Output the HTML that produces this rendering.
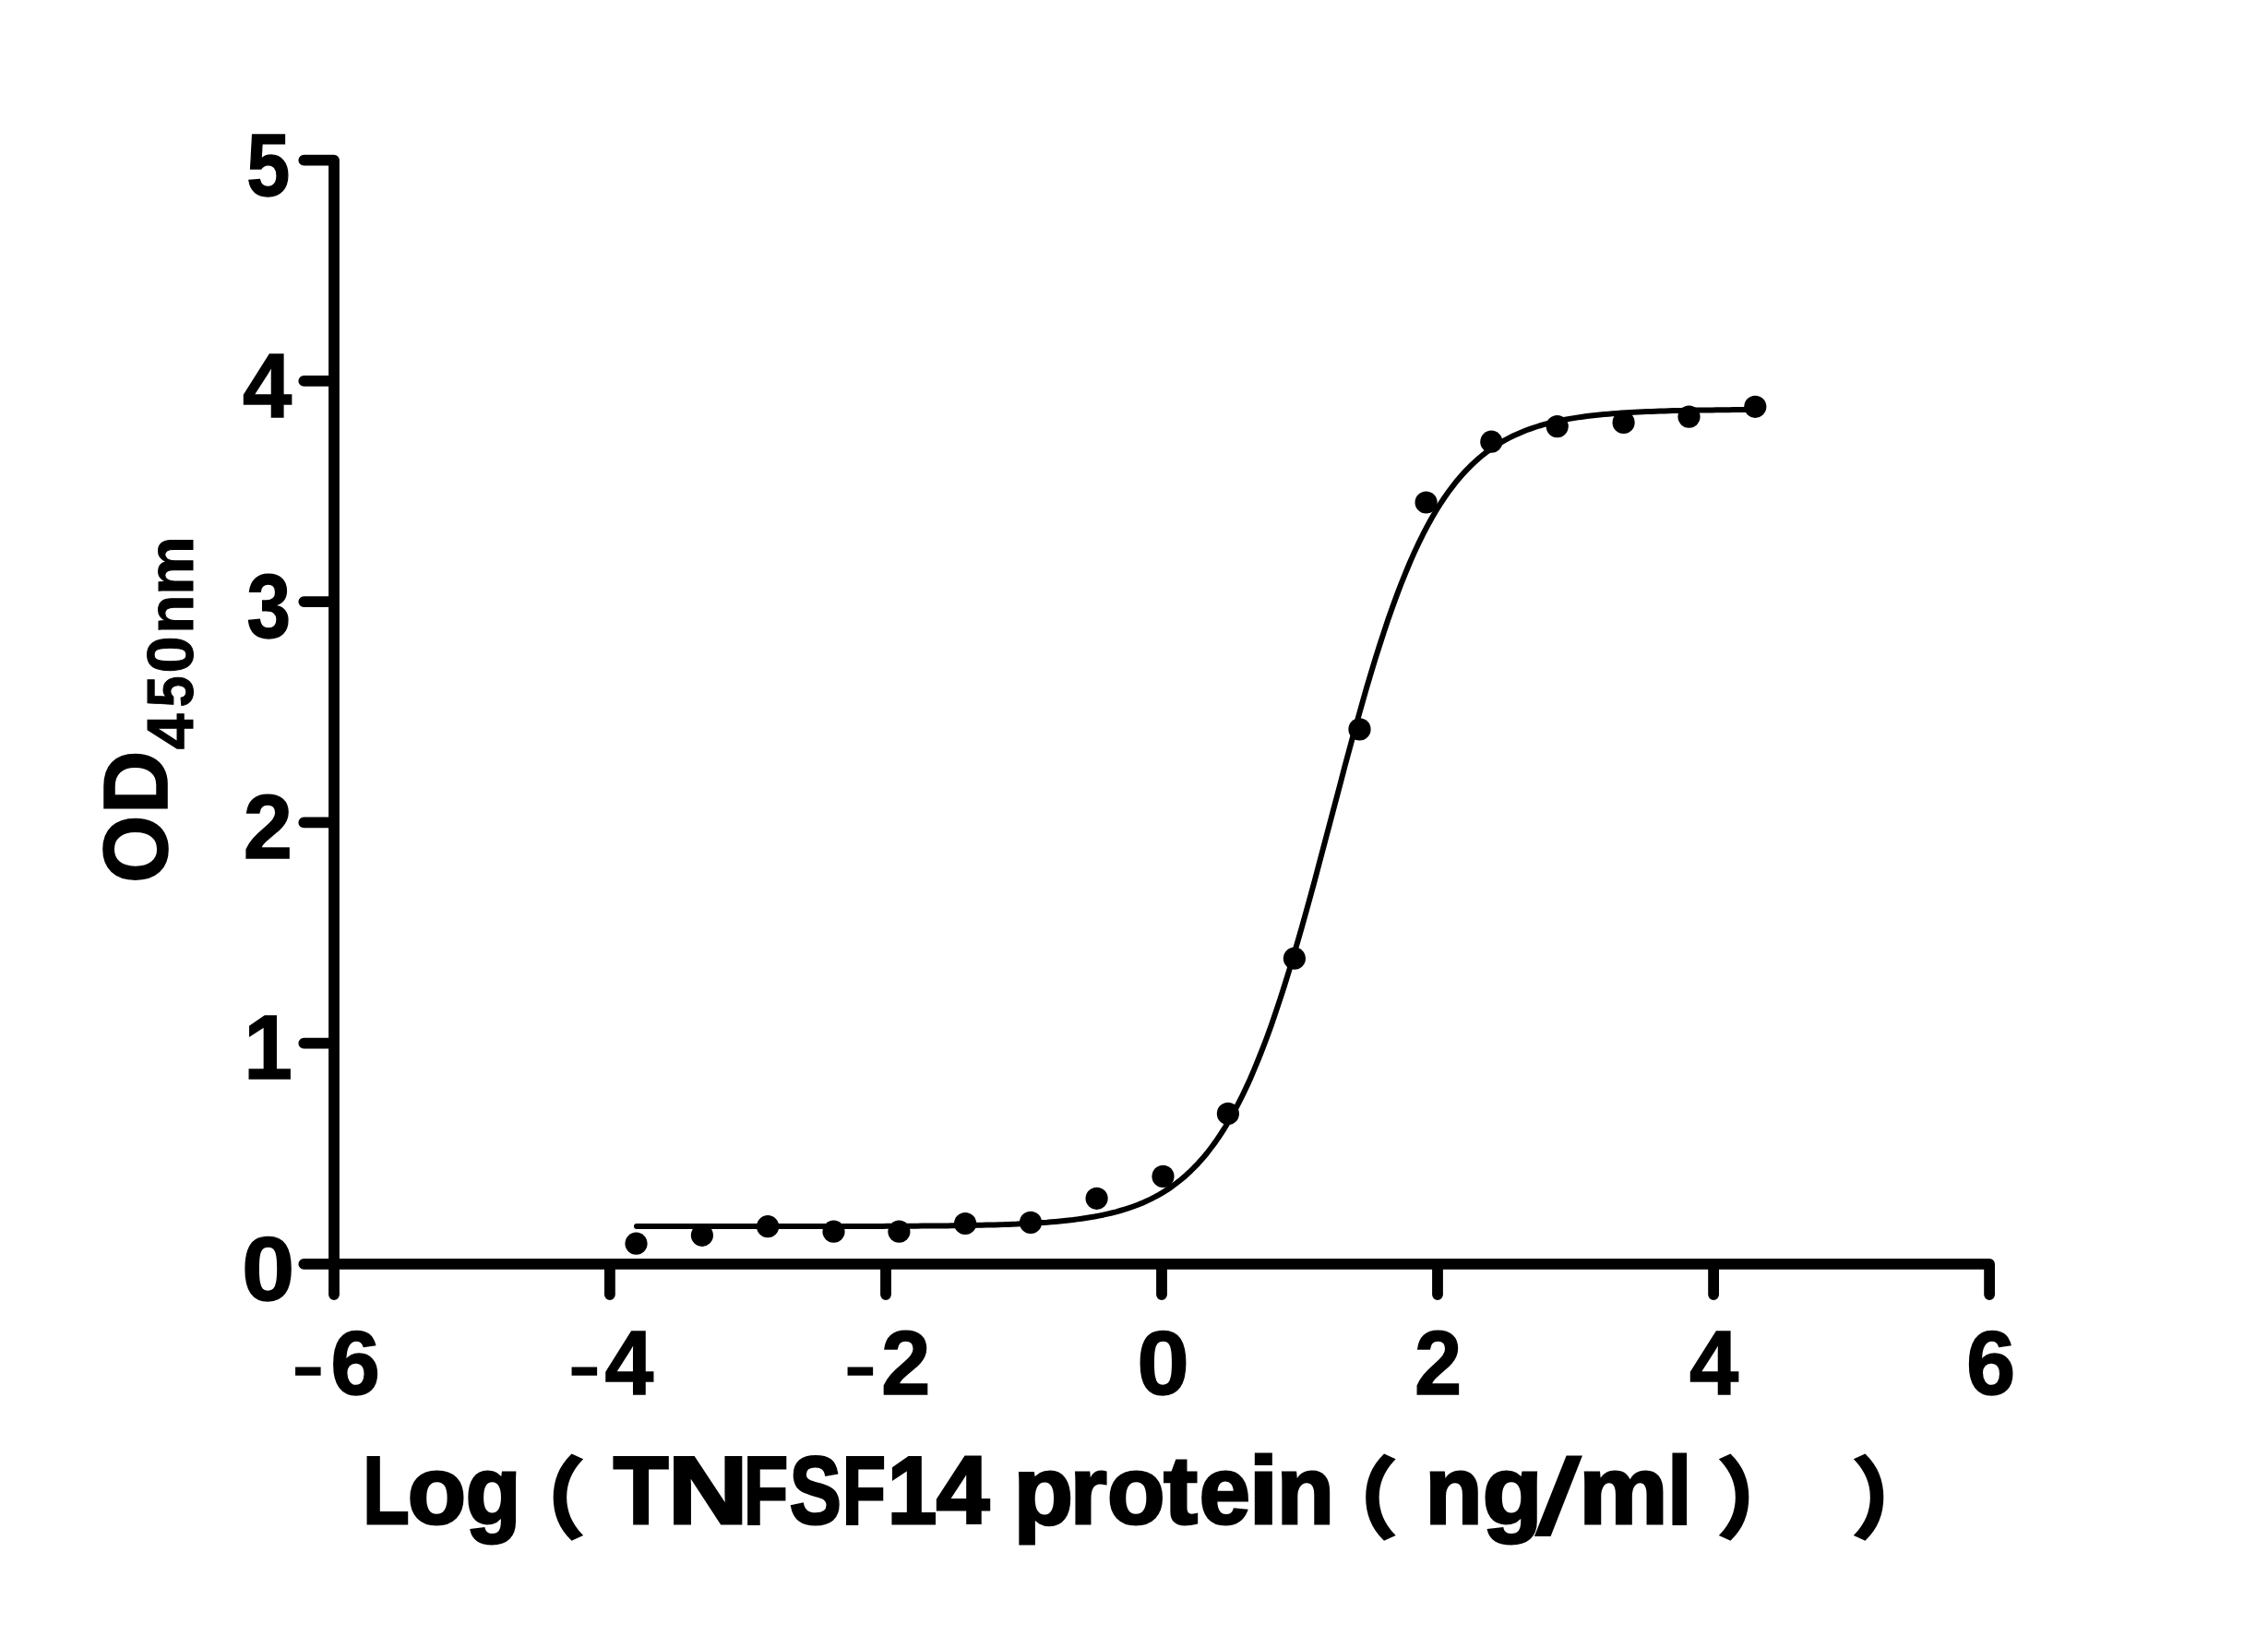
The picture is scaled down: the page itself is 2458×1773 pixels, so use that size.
<!DOCTYPE html>
<html lang="en"><head><meta charset="utf-8"><title>TNFSF14 binding curve</title>
<style>
html,body{margin:0;padding:0;background:#fff;}
body{width:2458px;height:1773px;overflow:hidden;}
svg{display:block;}
text{font-family:"Liberation Sans",sans-serif;font-weight:bold;fill:#000;stroke:#000;stroke-linejoin:miter;stroke-miterlimit:3;}
.tk{font-size:97.8px;stroke-width:1.4px;}
.tt{font-size:103px;stroke-width:3.0px;}
.yl{font-size:97.5px;stroke-width:1.6px;}
.sub{font-size:70px;stroke-width:1.0px;}
.pp{font-family:"Liberation Sans","Noto Sans CJK SC",sans-serif;font-size:93px;font-weight:bold;stroke-width:4.0px;}
</style></head>
<body>
<svg width="2458" height="1773" viewBox="0 0 2458 1773">
<rect width="2458" height="1773" fill="#fff"/>
<path d="M329.3,173.6 H362.0 V1403.1 M329.3,1369.9 H2156.1 V1403.1 M329.3,1130.6 H362.0 M329.3,891.4 H362.0 M329.3,652.1 H362.0 M329.3,412.9 H362.0 M660.9,1369.9 V1403.1 M960.0,1369.9 V1403.1 M1259.0,1369.9 V1403.1 M1558.0,1369.9 V1403.1 M1857.1,1369.9 V1403.1" fill="none" stroke="#000" stroke-width="11.8" stroke-linecap="round" stroke-linejoin="round"/>
<polyline points="690.0,1329.1 694.7,1329.1 699.4,1329.1 704.0,1329.1 708.7,1329.1 713.4,1329.1 718.1,1329.1 722.8,1329.1 727.4,1329.1 732.1,1329.1 736.8,1329.1 741.5,1329.1 746.2,1329.1 750.8,1329.1 755.5,1329.1 760.2,1329.0 764.9,1329.0 769.6,1329.0 774.3,1329.0 778.9,1329.0 783.6,1329.0 788.3,1329.0 793.0,1329.0 797.7,1329.0 802.3,1329.0 807.0,1329.0 811.7,1329.0 816.4,1329.0 821.1,1329.0 825.7,1329.0 830.4,1329.0 835.1,1329.0 839.8,1329.0 844.5,1329.0 849.1,1329.0 853.8,1329.0 858.5,1329.0 863.2,1329.0 867.9,1329.0 872.5,1329.0 877.2,1329.0 881.9,1329.0 886.6,1329.0 891.3,1329.0 896.0,1329.0 900.6,1329.0 905.3,1329.0 910.0,1329.0 914.7,1329.0 919.4,1328.9 924.0,1328.9 928.7,1328.9 933.4,1328.9 938.1,1328.9 942.8,1328.9 947.4,1328.9 952.1,1328.9 956.8,1328.9 961.5,1328.8 966.2,1328.8 970.8,1328.8 975.5,1328.8 980.2,1328.7 984.9,1328.7 989.6,1328.7 994.2,1328.7 998.9,1328.6 1003.6,1328.6 1008.3,1328.6 1013.0,1328.5 1017.6,1328.5 1022.3,1328.4 1027.0,1328.4 1031.7,1328.3 1036.4,1328.2 1041.1,1328.2 1045.7,1328.1 1050.4,1328.0 1055.1,1327.9 1059.8,1327.8 1064.5,1327.7 1069.1,1327.6 1073.8,1327.5 1078.5,1327.4 1083.2,1327.2 1087.9,1327.1 1092.5,1326.9 1097.2,1326.7 1101.9,1326.6 1106.6,1326.3 1111.3,1326.1 1115.9,1325.9 1120.6,1325.6 1125.3,1325.3 1130.0,1325.0 1134.7,1324.7 1139.3,1324.3 1144.0,1323.9 1148.7,1323.5 1153.4,1323.0 1158.1,1322.5 1162.8,1322.0 1167.4,1321.4 1172.1,1320.7 1176.8,1320.0 1181.5,1319.3 1186.2,1318.5 1190.8,1317.6 1195.5,1316.7 1200.2,1315.6 1204.9,1314.5 1209.6,1313.3 1214.2,1312.0 1218.9,1310.6 1223.6,1309.1 1228.3,1307.5 1233.0,1305.7 1237.6,1303.9 1242.3,1301.8 1247.0,1299.6 1251.7,1297.2 1256.4,1294.6 1261.0,1291.9 1265.7,1288.9 1270.4,1285.7 1275.1,1282.2 1279.8,1278.5 1284.4,1274.6 1289.1,1270.3 1293.8,1265.7 1298.5,1260.8 1303.2,1255.6 1307.9,1250.0 1312.5,1244.0 1317.2,1237.6 1321.9,1230.7 1326.6,1223.5 1331.3,1215.8 1335.9,1207.6 1340.6,1198.9 1345.3,1189.7 1350.0,1179.9 1354.7,1169.7 1359.3,1158.9 1364.0,1147.5 1368.7,1135.6 1373.4,1123.2 1378.1,1110.2 1382.7,1096.6 1387.4,1082.6 1392.1,1068.0 1396.8,1052.9 1401.5,1037.4 1406.1,1021.4 1410.8,1005.1 1415.5,988.3 1420.2,971.3 1424.9,954.0 1429.5,936.5 1434.2,918.8 1438.9,901.0 1443.6,883.2 1448.3,865.4 1453.0,847.7 1457.6,830.0 1462.3,812.6 1467.0,795.4 1471.7,778.5 1476.4,761.9 1481.0,745.6 1485.7,729.8 1490.4,714.4 1495.1,699.5 1499.8,685.1 1504.4,671.2 1509.1,657.9 1513.8,645.1 1518.5,632.8 1523.2,621.1 1527.8,610.0 1532.5,599.4 1537.2,589.3 1541.9,579.7 1546.6,570.7 1551.2,562.2 1555.9,554.2 1560.6,546.6 1565.3,539.5 1570.0,532.8 1574.7,526.6 1579.3,520.7 1584.0,515.2 1588.7,510.1 1593.4,505.3 1598.1,500.9 1602.7,496.7 1607.4,492.8 1612.1,489.2 1616.8,485.9 1621.5,482.7 1626.1,479.8 1630.8,477.1 1635.5,474.6 1640.2,472.3 1644.9,470.2 1649.5,468.2 1654.2,466.3 1658.9,464.6 1663.6,463.0 1668.3,461.5 1672.9,460.2 1677.6,458.9 1682.3,457.8 1687.0,456.7 1691.7,455.7 1696.3,454.8 1701.0,453.9 1705.7,453.1 1710.4,452.4 1715.1,451.7 1719.8,451.1 1724.4,450.5 1729.1,450.0 1733.8,449.5 1738.5,449.1 1743.2,448.7 1747.8,448.3 1752.5,447.9 1757.2,447.6 1761.9,447.3 1766.6,447.0 1771.2,446.7 1775.9,446.5 1780.6,446.3 1785.3,446.1 1790.0,445.9 1794.6,445.7 1799.3,445.6 1804.0,445.4 1808.7,445.3 1813.4,445.1 1818.0,445.0 1822.7,444.9 1827.4,444.8 1832.1,444.7 1836.8,444.6 1841.5,444.6 1846.1,444.5 1850.8,444.4 1855.5,444.4 1860.2,444.3 1864.9,444.3 1869.5,444.2 1874.2,444.2 1878.9,444.1 1883.6,444.1 1888.3,444.1 1892.9,444.0 1897.6,444.0 1902.3,444.0" fill="none" stroke="#000" stroke-width="6" stroke-linecap="round" stroke-linejoin="round"/>
<g fill="#000">
<circle cx="689.5" cy="1347.7" r="12.1"/>
<circle cx="760.9" cy="1338.8" r="12.1"/>
<circle cx="832.1" cy="1329.2" r="12.1"/>
<circle cx="903.5" cy="1334.7" r="12.1"/>
<circle cx="974.4" cy="1334.7" r="12.1"/>
<circle cx="1046.1" cy="1326.0" r="12.1"/>
<circle cx="1117.0" cy="1324.9" r="12.1"/>
<circle cx="1188.6" cy="1298.8" r="12.1"/>
<circle cx="1260.5" cy="1274.9" r="12.1"/>
<circle cx="1330.9" cy="1206.9" r="12.1"/>
<circle cx="1402.9" cy="1038.7" r="12.1"/>
<circle cx="1473.5" cy="790.4" r="12.1"/>
<circle cx="1545.6" cy="544.5" r="12.1"/>
<circle cx="1616.3" cy="478.7" r="12.1"/>
<circle cx="1687.7" cy="462.1" r="12.1"/>
<circle cx="1759.6" cy="457.9" r="12.1"/>
<circle cx="1830.5" cy="451.6" r="12.1"/>
<circle cx="1902.3" cy="440.8" r="12.1"/>
</g>
<g>
<text class="tk" y="212.4" x="267.3" textLength="47.0" lengthAdjust="spacingAndGlyphs" style="font-size:96.2px;">5</text>
<text class="tk" y="451.7" x="262.9" textLength="53.2" lengthAdjust="spacingAndGlyphs">4</text>
<text class="tk" y="690.9" x="267.4" textLength="47.6" lengthAdjust="spacingAndGlyphs">3</text>
<text class="tk" y="930.2" x="263.8" textLength="53.2" lengthAdjust="spacingAndGlyphs">2</text>
<text class="tk" y="1169.4" x="264.2" textLength="52.6" lengthAdjust="spacingAndGlyphs">1</text>
<text class="tk" y="1408.7" x="261.9" textLength="57.3" lengthAdjust="spacingAndGlyphs">0</text>
<text class="tk" y="1510.8"><tspan x="317.19" textLength="33.3" lengthAdjust="spacingAndGlyphs" y="1503.0" style="font-size:64.6px;">-</tspan><tspan x="358.3" textLength="53.7" lengthAdjust="spacingAndGlyphs" y="1510.8">6</tspan></text>
<text class="tk" y="1510.8"><tspan x="616.89" textLength="33.3" lengthAdjust="spacingAndGlyphs" y="1503.0" style="font-size:64.6px;">-</tspan><tspan x="655.5" textLength="52.8" lengthAdjust="spacingAndGlyphs" y="1510.8">4</tspan></text>
<text class="tk" y="1510.8"><tspan x="915.79" textLength="33.3" lengthAdjust="spacingAndGlyphs" y="1503.0" style="font-size:64.6px;">-</tspan><tspan x="955.0" textLength="53.5" lengthAdjust="spacingAndGlyphs" y="1510.8">2</tspan></text>
<text class="tk" y="1510.8" x="1232.2" textLength="56.6" lengthAdjust="spacingAndGlyphs">0</text>
<text class="tk" y="1510.8" x="1533.1" textLength="51.2" lengthAdjust="spacingAndGlyphs">2</text>
<text class="tk" y="1510.8" x="1830.9" textLength="53.2" lengthAdjust="spacingAndGlyphs">4</text>
<text class="tk" y="1510.8" x="2130.9" textLength="53.3" lengthAdjust="spacingAndGlyphs">6</text>
<text class="tt" y="1651.3"><tspan x="393.29" textLength="50.35" lengthAdjust="spacingAndGlyphs">L</tspan><tspan x="441.85" textLength="63.3" lengthAdjust="spacingAndGlyphs">o</tspan><tspan x="504.8" textLength="59.64" lengthAdjust="spacingAndGlyphs">g</tspan></text>
<text class="pp" y="1658.4" x="540.0">（</text>
<text class="tt" y="1651.3"><tspan x="664.7" textLength="59.75" lengthAdjust="spacingAndGlyphs">T</tspan><tspan x="723.84" textLength="86.97" lengthAdjust="spacingAndGlyphs">N</tspan><tspan x="806.04" textLength="48.04" lengthAdjust="spacingAndGlyphs">F</tspan><tspan x="855.78" textLength="56.0" lengthAdjust="spacingAndGlyphs">S</tspan><tspan x="913.07" textLength="46.84" lengthAdjust="spacingAndGlyphs">F</tspan><tspan x="961.74" textLength="53.54" lengthAdjust="spacingAndGlyphs">1</tspan><tspan x="1014.73" textLength="57.52" lengthAdjust="spacingAndGlyphs">4</tspan></text>
<text class="tt" y="1651.3"><tspan x="1098.44" textLength="64.49" lengthAdjust="spacingAndGlyphs">p</tspan><tspan x="1159.74" textLength="39.91" lengthAdjust="spacingAndGlyphs">r</tspan><tspan x="1200.1" textLength="62.49" lengthAdjust="spacingAndGlyphs">o</tspan><tspan x="1261.16" textLength="36.69" lengthAdjust="spacingAndGlyphs">t</tspan><tspan x="1299.73" textLength="55.16" lengthAdjust="spacingAndGlyphs">e</tspan><tspan x="1353.51" textLength="31.79" lengthAdjust="spacingAndGlyphs">i</tspan><tspan x="1383.68" textLength="62.23" lengthAdjust="spacingAndGlyphs">n</tspan></text>
<text class="pp" y="1658.4" x="1420.6">（</text>
<text class="tt" y="1651.3"><tspan x="1544.4" textLength="62.11" lengthAdjust="spacingAndGlyphs" y="1651.3">n</tspan><tspan x="1606.75" textLength="64.86" lengthAdjust="spacingAndGlyphs" y="1651.3">g</tspan><tspan x="1665.8" textLength="46.4" lengthAdjust="spacingAndGlyphs" y="1662.0" style="font-size:115.5px;font-weight:normal;">/</tspan><tspan x="1711.16" textLength="96.36" lengthAdjust="spacingAndGlyphs" y="1651.3">m</tspan><tspan x="1807.24" textLength="26.12" lengthAdjust="spacingAndGlyphs" y="1651.3">l</tspan></text>
<text class="pp" y="1658.4" x="1862.0">）</text>
<text class="pp" y="1658.4" x="2008.0">）</text>
</g>
<g transform="translate(180.9,957.5) rotate(-90)"><text class="yl" y="0"><tspan x="0.42" textLength="73.55" lengthAdjust="spacingAndGlyphs">O</tspan><tspan x="75.56" textLength="68.42" lengthAdjust="spacingAndGlyphs">D</tspan></text><text class="sub" y="28.1"><tspan x="145.34" textLength="38.94" lengthAdjust="spacingAndGlyphs">4</tspan><tspan x="191.12" textLength="33.98" lengthAdjust="spacingAndGlyphs">5</tspan><tspan x="227.95" textLength="40.11" lengthAdjust="spacingAndGlyphs">0</tspan><tspan x="270.74" textLength="42.25" lengthAdjust="spacingAndGlyphs">n</tspan><tspan x="312.46" textLength="63.89" lengthAdjust="spacingAndGlyphs">m</tspan></text></g>
</svg>
</body></html>
